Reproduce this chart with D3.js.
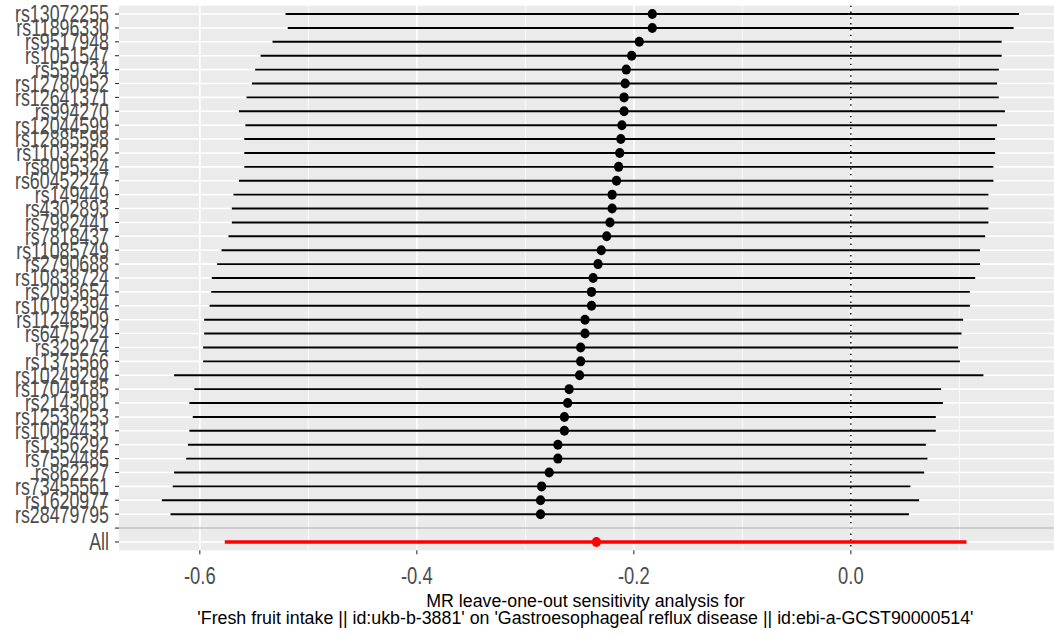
<!DOCTYPE html>
<html>
<head>
<meta charset="utf-8">
<script src="https://cdn.jsdelivr.net/npm/d3@7"></script>
<style>
  body { margin: 0; background: #ffffff; }
  svg { display: block; }
  text { font-family: "Liberation Sans", Arial, sans-serif; }
</style>
</head>
<body>
<svg id="chart" width="1054" height="635"></svg>
<script>
// Leave-one-out estimates, one row per SNP removed (top to bottom)
const snps = [
  "rs13072255", "rs11896330", "rs9517948", "rs1051547", "rs559734",
  "rs12780952", "rs12641371", "rs994270", "rs12044599", "rs12885598",
  "rs11032362", "rs8095324", "rs60452247", "rs149449", "rs4302893",
  "rs7982441", "rs7818437", "rs11085749", "rs2790688", "rs10838724",
  "rs2093654", "rs10192394", "rs11248509", "rs6475724", "rs329274",
  "rs1375566", "rs10249294", "rs17049185", "rs2143081", "rs12536253",
  "rs10064431", "rs1356292", "rs7554485", "rs862227", "rs73455561",
  "rs1620977", "rs28479795"
];
const estimates = [
  -0.183, -0.183, -0.195, -0.202, -0.207, -0.208, -0.209, -0.209, -0.211, -0.212,
  -0.213, -0.214, -0.216, -0.220, -0.220, -0.222, -0.225, -0.230, -0.233, -0.2375,
  -0.239, -0.239, -0.245, -0.245, -0.249, -0.249, -0.250, -0.2596, -0.261, -0.264,
  -0.264, -0.270, -0.270, -0.278, -0.285, -0.286, -0.286
];
const lower = [
  -0.521, -0.519, -0.533, -0.544, -0.549, -0.552, -0.557, -0.564, -0.558, -0.559,
  -0.559, -0.559, -0.564, -0.569, -0.5705, -0.5705, -0.5736, -0.580, -0.584, -0.589,
  -0.5895, -0.591, -0.596, -0.596, -0.597, -0.597, -0.6237, -0.605, -0.6096, -0.6065,
  -0.6096, -0.611, -0.6126, -0.6237, -0.625, -0.635, -0.627
];
const upper = [
  0.155, 0.150, 0.139, 0.139, 0.1364, 0.1348, 0.1364, 0.142, 0.1348, 0.133,
  0.133, 0.1314, 0.1314, 0.1268, 0.1268, 0.1268, 0.1238, 0.119, 0.119, 0.1146,
  0.1097, 0.1097, 0.1035, 0.102, 0.0989, 0.1005, 0.1222, 0.0832, 0.0848, 0.0783,
  0.0783, 0.0691, 0.0706, 0.0676, 0.0549, 0.0629, 0.0535
];
// Overall (all SNPs) estimate
const allLabel = "All";
const allEstimate = -0.2345;
const allLower = -0.577;
const allUpper = 0.1066;

const xTicks = [-0.6, -0.4, -0.2, 0.0];
const xTickLabels = ["-0.6", "-0.4", "-0.2", "0.0"];
const xMinor = [-0.5, -0.3, -0.1, 0.1];
const titleLines = [
  "MR leave-one-out sensitivity analysis for",
  "'Fresh fruit intake || id:ukb-b-3881' on 'Gastroesophageal reflux disease || id:ebi-a-GCST90000514'"
];

const rows = snps.map((s, i) => ({ snp: s, b: estimates[i], lo: lower[i], up: upper[i], all: false }));
rows.push({ snp: allLabel, b: allEstimate, lo: allLower, up: allUpper, all: true });
const levels = snps.concat([""], [allLabel]);

const svg = d3.select("#chart");
const panel = { left: 119, top: 5.7, bottom: 550.3 };

// x scale with 5% expansion either side of the data range
const xmin = d3.min(rows, d => d.lo), xmax = d3.max(rows, d => d.up);
const pad = (xmax - xmin) * 0.05;
const pxPerUnit = 1085;
const x = d3.scaleLinear()
  .domain([xmin - pad, xmax + pad])
  .range([panel.left, panel.left + (xmax - xmin + 2 * pad) * pxPerUnit]);
const panelRight = x.range()[1];

const y = d3.scalePoint()
  .domain(levels)
  .range([panel.top, panel.bottom])
  .padding(0.6);

const TEXT_SY = 1.3;

// panel background
svg.append("rect")
  .attr("x", panel.left).attr("y", panel.top)
  .attr("width", panelRight - panel.left).attr("height", panel.bottom - panel.top)
  .attr("fill", "#EBEBEB");

// grid
const grid = svg.append("g");
grid.selectAll(".minor").data(xMinor).join("line")
  .attr("x1", d => x(d)).attr("x2", d => x(d))
  .attr("y1", panel.top).attr("y2", panel.bottom)
  .attr("stroke", "#ffffff").attr("stroke-width", 0.8);
grid.selectAll(".majx").data(xTicks).join("line")
  .attr("x1", d => x(d)).attr("x2", d => x(d))
  .attr("y1", panel.top).attr("y2", panel.bottom)
  .attr("stroke", "#ffffff").attr("stroke-width", 1.6);
grid.selectAll(".majy").data(levels).join("line")
  .attr("x1", panel.left).attr("x2", panelRight)
  .attr("y1", d => y(d)).attr("y2", d => y(d))
  .attr("stroke", "#ffffff").attr("stroke-width", 1.6);

// reference line at zero
svg.append("line")
  .attr("x1", x(0)).attr("x2", x(0))
  .attr("y1", panel.top).attr("y2", panel.bottom)
  .attr("stroke", "#000000").attr("stroke-width", 1.4)
  .attr("stroke-dasharray", "1.4,4.4");

// intervals
svg.append("g").selectAll("line").data(rows).join("line")
  .attr("x1", d => x(d.lo)).attr("x2", d => x(d.up))
  .attr("y1", d => y(d.snp)).attr("y2", d => y(d.snp))
  .attr("stroke", d => d.all ? "#FF0000" : "#000000")
  .attr("stroke-width", d => d.all ? 3.6 : 1.9);

// point estimates
svg.append("g").selectAll("ellipse").data(rows).join("ellipse")
  .attr("cx", d => x(d.b)).attr("cy", d => y(d.snp))
  .attr("rx", 4.6).attr("ry", 5)
  .attr("fill", d => d.all ? "#FF0000" : "#000000");

// separator above the overall row
svg.append("line")
  .attr("x1", panel.left).attr("x2", panelRight)
  .attr("y1", y("")).attr("y2", y(""))
  .attr("stroke", "#BEBEBE").attr("stroke-width", 1.6);

// y axis
const yAxis = svg.append("g").attr("transform", `translate(${panel.left},0)`);
yAxis.selectAll("line").data(levels).join("line")
  .attr("x1", -4).attr("x2", 0)
  .attr("y1", d => y(d)).attr("y2", d => y(d))
  .attr("stroke", "#333333").attr("stroke-width", 1.1);
yAxis.selectAll("text").data(levels).join("text")
  .attr("transform", d => `translate(-10,${y(d)}) scale(1,${TEXT_SY})`)
  .attr("text-anchor", "end")
  .attr("dy", "0.36em")
  .attr("font-size", 17.8)
  .attr("fill", "#4D4D4D")
  .text(d => d);

// x axis
const xAxis = svg.append("g").attr("transform", `translate(0,${panel.bottom})`);
xAxis.selectAll("line").data(xTicks).join("line")
  .attr("x1", d => x(d)).attr("x2", d => x(d))
  .attr("y1", 0).attr("y2", 4)
  .attr("stroke", "#333333").attr("stroke-width", 1.1);
xAxis.selectAll("text").data(xTicks).join("text")
  .attr("transform", d => `translate(${x(d)},${25}) scale(1,${TEXT_SY})`)
  .attr("text-anchor", "middle")
  .attr("dy", "0.36em")
  .attr("font-size", 18.4)
  .attr("fill", "#4D4D4D")
  .text((d, i) => xTickLabels[i]);

// axis title
const cx = (panel.left + panelRight) / 2;
svg.append("g").selectAll("text").data(titleLines).join("text")
  .attr("transform", (d, i) => `translate(${cx - 5},${600 + i * 17}) scale(1,1.05)`)
  .attr("text-anchor", "middle")
  .attr("dy", "0.36em")
  .attr("font-size", 17.8)
  .attr("fill", "#000000")
  .text(d => d);
</script>
</body>
</html>
